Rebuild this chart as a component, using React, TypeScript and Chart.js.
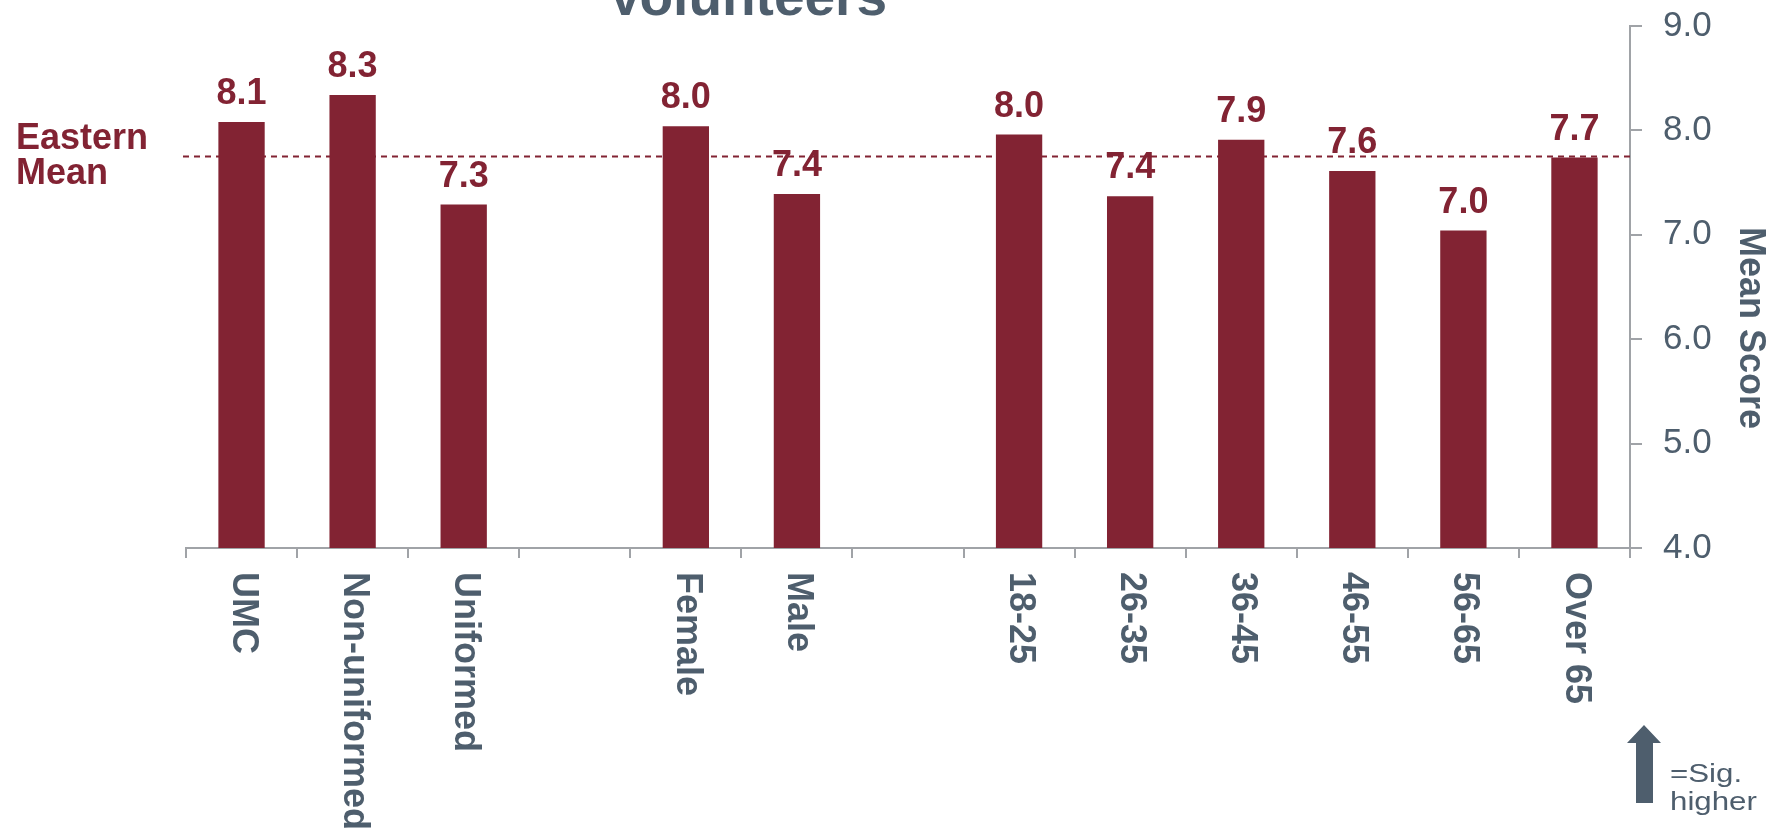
import React, { useEffect, useRef } from 'react';
import { Chart, registerables } from 'chart.js';

Chart.register(...registerables);

// ---- data ----
const categories = ['UMC', 'Non-uniformed', 'Uniformed', '', 'Female', 'Male', '', '18-25', '26-35', '36-45', '46-55', '56-65', 'Over 65'];
const meanScores = [8.08, 8.34, 7.29, null, 8.04, 7.39, null, 7.96, 7.37, 7.91, 7.61, 7.04, 7.74];
const easternMean = 7.75;
const yMin = 4;
const yMax = 9;
const yStep = 1;
const titleText = 'Volunteers';
const axisTitle = 'Mean Score';
const meanLabelLines = ['Eastern', 'Mean'];
const legendLines = ['=Sig.', 'higher'];

// ---- styles ----
const MAROON = '#822333';
const SLATE = '#4E5E6D';
const AXIS = '#A0A3A7';
const FONT = '"Liberation Sans", Arial, sans-serif';

const overlayPlugin = {
  id: 'overlay',
  beforeDatasetsDraw(chart: any) {
    const { ctx, chartArea, scales } = chart;
    const yy = scales.y.getPixelForValue(easternMean);
    ctx.save();
    ctx.strokeStyle = MAROON;
    ctx.lineWidth = 2;
    ctx.setLineDash([6, 5]);
    ctx.beginPath();
    ctx.moveTo(chartArea.left - 3, yy);
    ctx.lineTo(chartArea.right, yy);
    ctx.stroke();
    ctx.restore();
  },
  afterDatasetsDraw(chart: any) {
    const { ctx } = chart;
    const meta = chart.getDatasetMeta(0);
    ctx.save();
    ctx.fillStyle = MAROON;
    ctx.font = `bold 36px ${FONT}`;
    ctx.textAlign = 'center';
    ctx.textBaseline = 'alphabetic';
    meta.data.forEach((el: any, i: number) => {
      const v = meanScores[i];
      if (v == null) return;
      ctx.fillText(v.toFixed(1), el.x, el.y - 18);
    });
    ctx.restore();
  },
  afterDraw(chart: any) {
    const { ctx, chartArea, scales } = chart;
    const x = scales.x;
    const y = scales.y;
    ctx.save();

    // x category labels, rotated clockwise
    ctx.fillStyle = SLATE;
    ctx.font = `bold 36px ${FONT}`;
    ctx.textAlign = 'left';
    ctx.textBaseline = 'middle';
    categories.forEach((c, i) => {
      if (!c) return;
      const cx = x.getPixelForTick(i);
      ctx.save();
      ctx.translate(cx + 1, chartArea.bottom + 24);
      ctx.rotate(Math.PI / 2);
      ctx.fillText(c, 0, 0);
      ctx.restore();
    });

    // Eastern Mean label
    const my = y.getPixelForValue(easternMean);
    ctx.fillStyle = MAROON;
    ctx.font = `bold 36px ${FONT}`;
    ctx.textAlign = 'left';
    ctx.textBaseline = 'alphabetic';
    ctx.fillText(meanLabelLines[0], 16, my - 8);
    ctx.fillText(meanLabelLines[1], 16, my + 27);

    // Title (cut at top)
    ctx.fillStyle = SLATE;
    ctx.font = `bold 55px ${FONT}`;
    ctx.textAlign = 'center';
    ctx.fillText(titleText, 747, 15);

    // Axis title, rotated clockwise
    ctx.save();
    ctx.font = `bold 36px ${FONT}`;
    ctx.translate(1740, 328);
    ctx.rotate(Math.PI / 2);
    ctx.textAlign = 'center';
    ctx.textBaseline = 'alphabetic';
    ctx.fillText(axisTitle, 0, 0);
    ctx.restore();

    // Sig. higher arrow legend
    ctx.fillStyle = SLATE;
    ctx.beginPath();
    ctx.moveTo(1644, 725);
    ctx.lineTo(1661, 743);
    ctx.lineTo(1653, 743);
    ctx.lineTo(1653, 803);
    ctx.lineTo(1636, 803);
    ctx.lineTo(1636, 743);
    ctx.lineTo(1627, 743);
    ctx.closePath();
    ctx.fill();

    ctx.font = `25px ${FONT}`;
    ctx.textAlign = 'left';
    [782, 810].forEach((by, i) => {
      ctx.save();
      ctx.translate(1670, by);
      ctx.scale(1.25, 1);
      ctx.fillText(legendLines[i], 0, 0);
      ctx.restore();
    });

    ctx.restore();
  },
};

export default function App() {
  const canvasRef = useRef<HTMLCanvasElement | null>(null);

  useEffect(() => {
    if (!canvasRef.current) return;
    Chart.defaults.font.family = FONT;
    const chart = new Chart(canvasRef.current, {
      type: 'bar',
      data: {
        labels: categories,
        datasets: [
          {
            data: meanScores,
            backgroundColor: MAROON,
            borderWidth: 0,
            categoryPercentage: 1,
            barPercentage: 0.417,
          },
        ],
      },
      options: {
        animation: false,
        responsive: false,
        devicePixelRatio: 1,
        layout: { padding: { left: 186, top: 26, right: 0, bottom: 0 } },
        plugins: {
          legend: { display: false },
          tooltip: { enabled: false },
          title: { display: false },
        },
        scales: {
          x: {
            type: 'category',
            offset: true,
            grid: {
              offset: true,
              drawOnChartArea: false,
              drawTicks: true,
              tickLength: 10,
              color: AXIS,
              lineWidth: 2,
            },
            border: { display: true, color: AXIS, width: 2 },
            ticks: { display: false },
            afterFit: (s: any) => {
              s.height = 287;
              s.paddingLeft = 0;
              s.paddingRight = 0;
            },
          },
          y: {
            position: 'right',
            min: yMin,
            max: yMax,
            grid: {
              drawOnChartArea: false,
              drawTicks: true,
              tickLength: 12,
              color: AXIS,
              lineWidth: 2,
            },
            border: { display: true, color: AXIS, width: 2 },
            ticks: {
              stepSize: yStep,
              padding: 21,
              color: SLATE,
              font: { size: 35, family: FONT },
              callback: (v: any) => Number(v).toFixed(1),
            },
            afterFit: (s: any) => {
              s.width = 150;
              s.paddingTop = 0;
              s.paddingBottom = 0;
            },
          },
        },
      },
      plugins: [overlayPlugin],
    });
    return () => chart.destroy();
  }, []);

  return (
    <div style={{ position: 'absolute', left: 0, top: 0, width: 1780, height: 835, background: '#fff' }}>
      <canvas ref={canvasRef} width={1780} height={835} style={{ display: 'block' }} />
    </div>
  );
}
